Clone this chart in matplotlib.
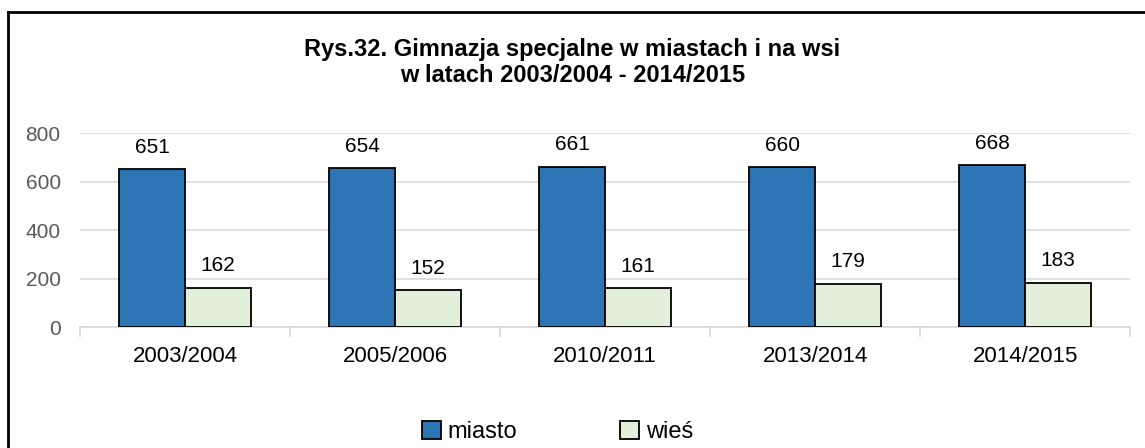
import numpy as np
import matplotlib
matplotlib.use('Agg')
import matplotlib.pyplot as plt
from matplotlib.lines import Line2D
from matplotlib.patches import Patch

years = ['2003/2004', '2005/2006', '2010/2011', '2013/2014', '2014/2015']
miasto = [651, 654, 661, 660, 668]
wies = [162, 152, 161, 179, 183]

plt.rcParams['font.family'] = ['Liberation Sans', 'DejaVu Sans']

fig = plt.figure(figsize=(11.45, 4.48), dpi=100)
ax = fig.add_axes([0.070, 0.270, 0.917, 0.433])

x = np.arange(len(years))
w = 0.315
b1 = ax.bar(x - w / 2, miasto, w, color='#2E75B6', edgecolor='black', linewidth=1.3, label='miasto', zorder=3)
b2 = ax.bar(x + w / 2, wies, w, color='#E2EFDA', edgecolor='black', linewidth=1.3, label='wieś', zorder=3)

for bars, vals in [(b1, miasto), (b2, wies)]:
    for r, v in zip(bars, vals):
        ax.annotate(str(v), (r.get_x() + r.get_width() / 2, v), xytext=(0, 9),
                    textcoords='offset points', ha='center', va='bottom', fontsize=15, color='black')

ax.set_ylim(0, 800)
ax.set_xlim(-0.5, 4.5)
ax.set_yticks([0, 200, 400, 600, 800])
ax.yaxis.grid(True, color='#D9D9D9', linewidth=1.2, zorder=0)
ax.set_axisbelow(True)
for s in ['top', 'right', 'left']:
    ax.spines[s].set_visible(False)
ax.spines['bottom'].set_color('#D9D9D9')
ax.spines['bottom'].set_linewidth(1.2)
ax.tick_params(axis='y', length=0, labelsize=15, labelcolor='#595959', pad=14)

# category labels in the middle, tick marks between categories
ax.set_xticks(np.arange(-0.5, 5, 1))
ax.set_xticklabels([])
ax.tick_params(axis='x', which='major', length=7, color='#D9D9D9', width=1.2)
ax.set_xticks(x, minor=True)
ax.set_xticklabels(years, minor=True)
ax.tick_params(axis='x', which='minor', length=0, labelsize=16, pad=14)

fig.text(0.5, 0.86, 'Rys.32. Gimnazja specjalne w miastach i na wsi\nw latach 2003/2004 - 2014/2015',
         ha='center', va='center', fontsize=17, fontweight='bold', linespacing=1.15)

handles = [Patch(facecolor='#2E75B6', edgecolor='black', linewidth=1.3),
           Patch(facecolor='#E2EFDA', edgecolor='black', linewidth=1.3)]
fig.legend(handles, ['miasto', 'wieś'], loc='center', bbox_to_anchor=(0.487, 0.035), ncol=2,
           frameon=False, fontsize=17, handlelength=0.8, handleheight=0.8,
           handletextpad=0.3, columnspacing=4.35)

# frame of the picture (only left and top edges visible)
fig.add_artist(Line2D([8 / 1145, 8 / 1145], [0, 1 - 12 / 448], color='black', linewidth=2, transform=fig.transFigure))
fig.add_artist(Line2D([8 / 1145, 1], [1 - 12 / 448, 1 - 12 / 448], color='black', linewidth=2, transform=fig.transFigure))

fig.savefig('out.png', dpi=100)
